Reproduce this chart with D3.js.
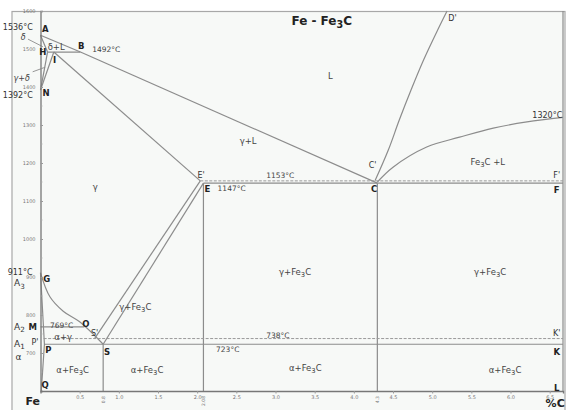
<!DOCTYPE html>
<html><head><meta charset="utf-8">
<script src="https://cdn.jsdelivr.net/npm/d3@7"></script>
<style>
body{margin:0;background:#fff}
svg{display:block;font-family:"DejaVu Sans",sans-serif}
</style>
</head><body>
<script>
// ---------- data (carbon %C, temperature °C) ----------
const carbonTicks = [0.5,1.0,1.5,2.0,2.5,3.0,3.5,4.0,4.5,5.0,5.5,6.0,6.5];
const tempTicks = [700,800,900,1000,1100,1200,1300,1400,1500,1600];
const keyCarbon = [0.8, 2.08, 4.3];
const keyCarbonLabels = ["0.8", "2.08", "4.3"];

const liquidusAB = [[0,1536],[0.51,1492]];
const liquidusBC = [[0.51,1492],[4.3,1147]];
const deltaAH = [[0,1536],[0.09,1492]];
const peritecticHB = [[0.09,1492],[0.51,1492]];
const deltaHN = [[0.09,1492],[0,1392]];
const gammaIN = [[0.17,1492],[0,1392]];
const solidusIE = [[0.17,1492],[2.04,1153]];
const acmES = [[2.08,1147],[0.8,723]];
const acmES2 = [[2.04,1153],[0.69,738]];
const a3GOS = [[0,911],[0.12,848],[0.29,810],[0.5,782],[0.8,723]];
const alphaGPQ = [[0,911],[0.05,723],[0.01,600]];
const a2MO = [[0,769],[0.56,769]];
const eutecticECF = [[2.08,1147],[6.67,1147]];
const eutecticStable = [[2.04,1153],[6.67,1153]];
const eutectoidPSK = [[0.05,723],[6.67,723]];
const eutectoidStable = [[0.04,738],[6.67,738]];
const lineS = [[0.8,723],[0.8,600]];
const lineE = [[2.08,1147],[2.08,600]];
const lineC = [[4.3,1147],[4.3,600]];
const lineRight = [[6.67,1600],[6.67,600]];
const liquidusCD = [[4.27,1153],[4.44,1234],[4.58,1313],[4.73,1392],[4.89,1471],[5.07,1550],[5.19,1600]];
const liquidusCF = [[4.3,1150],[4.5,1189],[4.93,1242],[5.35,1268],[5.78,1292],[6.21,1308],[6.67,1320]];
const pointerDelta = [[-0.16,1526],[0.03,1506]];
const pointerGammaDelta = [[-0.1,1440],[0.06,1452]];

// labels: [text, C, T]
const regionLabels = [
  ["L",3.70,1429],["γ+L",2.65,1258],["γ",0.70,1137],
  ["γ+Fe_3C",3.25,913],["γ+Fe_3C",5.74,913],["γ+Fe_3C",1.21,821],
  ["Fe_3C +L",5.71,1203],["α+γ",0.29,742],
  ["α+Fe_3C",0.41,655],["α+Fe_3C",1.36,655],["α+Fe_3C",3.38,660],["α+Fe_3C",5.93,655],
  ["δ+L",0.2,1505]
];
const tempLabels = [
  ["1492°C",0.84,1497],["769°C",0.27,770],["738°C",3.03,745],["723°C",2.39,707],
  ["1147°C",2.44,1131],["1153°C",3.06,1165]
];
const sideLabels = [
  ["1536°C",-0.29,1558],["1392°C",-0.29,1378],["911°C",-0.26,912],
  ["1320°C",6.47,1327]
];
const pointLabels = [
  ["A",0.06,1553],["B",0.52,1508],["H",0.03,1491],["I",0.18,1470],["N",0.07,1384],
  ["G",0.08,896],["M",-0.1,768],["O",0.58,777],["P",0.1,708],["Q",0.06,616],["S",0.85,703],
  ["E",2.13,1131],["C",4.26,1131],["F",6.59,1129],["K",6.59,703],["L",6.59,608]
];
const primeLabels = [
  ["S'",0.69,753],["P'",-0.07,730],["E'",2.05,1169],["C'",4.24,1195],["F'",6.59,1168],
  ["D'",5.26,1582],["K'",6.59,753]
];
const criticalLabels = [["A_3",-0.27,883],["A_2",-0.27,768],["A_1",-0.27,724],["α",-0.28,690]];
const otherLabels = [["δ",-0.22,1532],["γ+δ",-0.24,1425]];

// ---------- drawing ----------
const W = 568, H = 410;
const x = d3.scaleLinear().domain([0, 6.67]).range([40.5, 563]);
const y = d3.scaleLinear().domain([600, 1600]).range([391, 11]);
const svg = d3.select("body").append("svg").attr("width", W).attr("height", H);

svg.append("rect").attr("x", 12).attr("y", 11.5).attr("width", 553).attr("height", 420)
  .attr("fill", "#f7f9f7").attr("stroke", "#a8a8a8").attr("stroke-width", 1.2);

const line = d3.line().x(d => x(d[0])).y(d => y(d[1]));
const curve = d3.line().x(d => x(d[0])).y(d => y(d[1])).curve(d3.curveCatmullRom.alpha(0.5));
const stroke = "#8c8c8c";

const straight = [liquidusAB, liquidusBC, deltaAH, peritecticHB, deltaHN, gammaIN, solidusIE,
  acmES, acmES2, alphaGPQ, a2MO, eutecticECF, eutectoidPSK, lineS, lineE, lineC, lineRight];
svg.append("g").selectAll("path").data(straight).join("path")
  .attr("d", line).attr("fill", "none").attr("stroke", stroke).attr("stroke-width", 1.2);

svg.append("g").selectAll("path").data([a3GOS, liquidusCD, liquidusCF]).join("path")
  .attr("d", curve).attr("fill", "none").attr("stroke", stroke).attr("stroke-width", 1.2);

svg.append("g").selectAll("path").data([eutecticStable, eutectoidStable]).join("path")
  .attr("d", line).attr("fill", "none").attr("stroke", "#9a9a9a").attr("stroke-width", 1)
  .attr("stroke-dasharray", "3,1.5");

svg.append("g").selectAll("path").data([pointerDelta, pointerGammaDelta]).join("path")
  .attr("d", line).attr("fill", "none").attr("stroke", "#8c8c8c").attr("stroke-width", 0.9);

// axes
const yAxis = d3.axisLeft(y).tickValues(tempTicks).tickSize(-2.5).tickPadding(5)
  .tickFormat(d3.format("d"));
const gy = svg.append("g").attr("transform", `translate(${x(0)},0)`).call(yAxis);
gy.select(".domain").attr("stroke", "#777").attr("stroke-width", 1.3);
gy.selectAll(".tick line").attr("stroke", "#999");
gy.selectAll("text").attr("font-size", 5).attr("fill", "#777").attr("font-family", "DejaVu Sans");
const yMinor = d3.range(650, 1600, 100);
svg.append("g").selectAll("line").data(yMinor).join("line")
  .attr("x1", x(0)).attr("x2", x(0) + 2).attr("y1", d => y(d)).attr("y2", d => y(d))
  .attr("stroke", "#aaa").attr("stroke-width", 0.8);

const xAxis = d3.axisBottom(x).tickValues(carbonTicks).tickSize(2.5).tickPadding(2)
  .tickFormat(d3.format(".1f"));
const gx = svg.append("g").attr("transform", `translate(0,${y(600)})`).call(xAxis);
gx.select(".domain").attr("stroke", "#777").attr("stroke-width", 1.3);
gx.selectAll(".tick line").attr("stroke", "#999");
gx.selectAll("text").attr("font-size", 5).attr("fill", "#777").attr("font-family", "DejaVu Sans");

svg.append("g").selectAll("text").data(keyCarbon).join("text")
  .attr("transform", d => `translate(${x(d) + 1.8},${y(600) + 5}) rotate(-90)`)
  .attr("text-anchor", "end").attr("font-size", 4.5).attr("fill", "#777")
  .text((d, i) => keyCarbonLabels[i]);

// text helper with subscripts "_n"
function addLabels(data, opts) {
  const g = svg.append("g");
  data.forEach(d => {
    const s = opts.size;
    const t = g.append("text").attr("x", x(d[1])).attr("y", y(d[2]))
      .attr("text-anchor", opts.anchor || "middle").attr("dominant-baseline", "middle")
      .attr("font-size", s).attr("font-weight", opts.weight || "normal")
      .attr("font-style", opts.style || "normal").attr("fill", opts.fill || "#333");
    const parts = d[0].split(/_(\d)/);
    let pending = 0;
    parts.forEach((p, i) => {
      if (i % 2 === 1) {
        t.append("tspan").attr("dy", s * 0.35).attr("font-size", s * 0.8).text(p);
        pending = -s * 0.35;
      } else if (p) {
        const sp = t.append("tspan").text(p);
        if (pending) { sp.attr("dy", pending); pending = 0; }
      }
    });
  });
}
addLabels(regionLabels, {size: 8.5, fill: "#444"});
addLabels(tempLabels, {size: 7.5, fill: "#444"});
addLabels(sideLabels, {size: 8, fill: "#333"});
addLabels(pointLabels, {size: 8.5, weight: "bold", fill: "#222"});
addLabels(primeLabels, {size: 8, fill: "#333"});
addLabels(criticalLabels, {size: 9, fill: "#333"});
addLabels(otherLabels, {size: 8, fill: "#444", style: "italic"});

addLabels([["Fe - Fe_3C", 3.59, 1574]], {size: 12, weight: "bold", fill: "#222"});
addLabels([["Fe", -0.1, 571]], {size: 11, weight: "bold", fill: "#222"});
addLabels([["%C", 6.57, 566]], {size: 11, weight: "bold", fill: "#222"});
</script>
</body></html>
